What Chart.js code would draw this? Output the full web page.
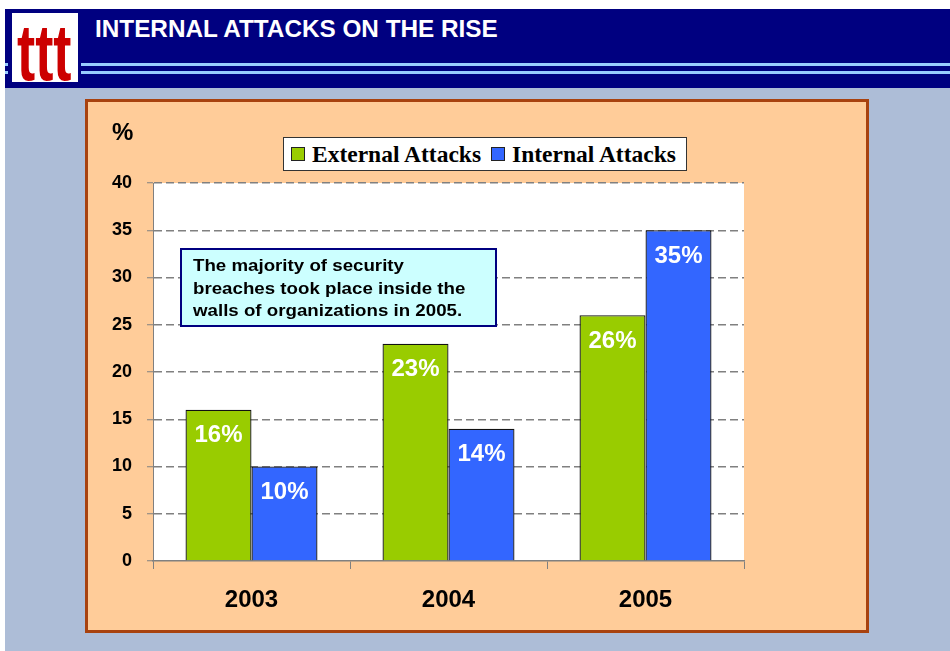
<!DOCTYPE html>
<html>
<head>
<meta charset="utf-8">
<title>Internal attacks on the rise</title>
<script src="https://cdn.jsdelivr.net/npm/chart.js@4.4.1/dist/chart.umd.min.js"></script>
<style>
  html, body { margin: 0; padding: 0; }
  body {
    width: 950px; height: 651px; position: relative; overflow: hidden;
    background: #fff; font-family: Arial, "Liberation Sans", sans-serif;
  }
  #slide { position: absolute; left: 5px; top: 9px; right: 0; bottom: 0; background: #adbdd7; }
  #header { position: absolute; left: 5px; top: 9px; width: 945px; height: 79px; background: #000080; }
  .rule { position: absolute; left: 5px; width: 945px; height: 3px; background: #99ccff; }
  #logoFrame { position: absolute; left: 8px; top: 9px; width: 73px; height: 79px; background: #000080; }
  #logo { position: absolute; left: 12px; top: 13px; width: 66px; height: 69px; background: #fff; overflow: hidden; }
  #logo span {
    position: absolute; left: 5px; top: -6px; line-height: 62px;
    font: bold 62px "Liberation Sans", Arial, sans-serif;
    color: #cc0000; letter-spacing: 0px;
    transform: scale(0.88, 1.28); transform-origin: 0 0;
  }
  #title {
    position: absolute; left: 95px; top: 17px; line-height: 24px;
    font-size: 24.3px; font-weight: bold; color: #fff; white-space: nowrap;
  }
  #panel {
    position: absolute; left: 85px; top: 99px; width: 784px; height: 534px;
    box-sizing: border-box; background: #ffcc99; border: 3px solid #a8420f;
  }
  #chartBox { position: absolute; left: 85px; top: 99px; width: 784px; height: 534px; }
  #yUnit {
    position: absolute; left: 112px; top: 120px; line-height: 24px;
    font-size: 24px; font-weight: bold; color: #000;
  }
  #legend {
    position: absolute; left: 283px; top: 137px; width: 404px; height: 34px;
    box-sizing: border-box; background: #fff; border: 1.5px solid #333;
    display: flex; align-items: center; padding-left: 7px;
    font: bold 23.5px "Liberation Serif", "Times New Roman", serif; color: #000;
    white-space: nowrap;
  }
  #legend .sw { width: 12px; height: 12px; border: 1px solid #222; margin-right: 7px; flex: none; }
  #legend .item { display: flex; align-items: center; margin-right: 10px; }
  #note {
    position: absolute; left: 180px; top: 248px; width: 317px; height: 79px;
    box-sizing: border-box; background: #ccffff; border: 2px solid #000080;
  }
  #note div {
    position: absolute; left: 11px; top: 5px; width: 300px;
    font-size: 17px; font-weight: bold; line-height: 22.5px; color: #000;
    transform: scaleX(1.1); transform-origin: 0 0; white-space: nowrap;
  }
</style>
</head>
<body>
<div id="slide"></div>
<div id="header"></div>
<div class="rule" style="top:63px"></div>
<div class="rule" style="top:71px"></div>
<div id="logoFrame"></div>
<div id="logo"><span>ttt</span></div>
<div id="title">INTERNAL ATTACKS ON THE RISE</div>

<div id="panel"></div>
<div id="chartBox"><canvas id="attacks"></canvas></div>
<div id="yUnit">%</div>
<div id="legend"></div>
<div id="note"><div>The majority of security<br>breaches took place inside the<br>walls of organizations in 2005.</div></div>

<script>
  const years = ["2003", "2004", "2005"];
  const externalAttacks = [16, 23, 26];
  const internalAttacks = [10, 14, 35];
  const seriesNames = ["External Attacks", "Internal Attacks"];
  const seriesColors = ["#99cc00", "#3366ff"];
  const yMin = 0, yMax = 40, yStep = 5;

  const FONT = 'Arial, "Liberation Sans", sans-serif';
  Chart.defaults.font.family = FONT;

  // white plot background behind the bars and grid
  const plotBg = {
    id: "plotBg",
    beforeDraw(chart) {
      const a = chart.chartArea, ctx = chart.ctx;
      ctx.save();
      ctx.fillStyle = "#fff";
      ctx.fillRect(a.left, a.top, a.right - a.left, a.bottom - a.top);
      ctx.restore();
    }
  };

  // "NN%" written in white just under the top of each bar
  const barLabels = {
    id: "barLabels",
    afterDatasetsDraw(chart) {
      const ctx = chart.ctx;
      ctx.save();
      ctx.font = "bold 24px " + FONT;
      ctx.fillStyle = "#fff";
      ctx.textAlign = "center";
      ctx.textBaseline = "middle";
      chart.data.datasets.forEach((ds, i) => {
        chart.getDatasetMeta(i).data.forEach((bar, j) => {
          ctx.fillText(ds.data[j] + "%", bar.x, bar.y + 26);
        });
      });
      ctx.restore();
    }
  };

  const chart = new Chart(document.getElementById("attacks"), {
    type: "bar",
    data: {
      labels: years,
      datasets: [externalAttacks, internalAttacks].map((vals, i) => ({
        label: seriesNames[i],
        data: vals,
        backgroundColor: seriesColors[i],
        borderColor: "#111",
        borderWidth: 1.3,
        borderSkipped: "bottom",
        categoryPercentage: 0.67,
        barPercentage: 1.0
      }))
    },
    options: {
      responsive: true,
      maintainAspectRatio: false,
      animation: false,
      layout: { padding: { top: 84, right: 125, bottom: 0, left: 0 } },
      plugins: { legend: { display: false }, tooltip: { enabled: false } },
      scales: {
        x: {
          grid: {
            display: true, drawOnChartArea: false, drawTicks: true, offset: true,
            tickLength: 8, color: "#808080", tickColor: "#808080"
          },
          border: { display: true, color: "#808080", width: 1.5 },
          ticks: { color: "#000", font: { size: 24, weight: "bold" }, padding: 17 },
          afterFit(s) { s.height = 72; }
        },
        y: {
          min: yMin, max: yMax,
          ticks: { stepSize: yStep, color: "#000", font: { size: 18, weight: "bold" }, padding: 15 },
          grid: {
            // the zero line is the solid x axis, so no dashed line there
            color: c => (c.tick && c.tick.value === 0 ? "rgba(0,0,0,0)" : "#808080"),
            lineWidth: 1.5, tickLength: 6, tickColor: "#808080", tickWidth: 1
          },
          border: { display: true, color: "#808080", width: 1, dash: [8, 4] },
          afterFit(s) { s.width = 68; }
        }
      }
    },
    plugins: [plotBg, barLabels]
  });

  // boxed legend above the plot, built from the datasets
  const legend = document.getElementById("legend");
  chart.data.datasets.forEach(ds => {
    const item = document.createElement("span");
    item.className = "item";
    const sw = document.createElement("span");
    sw.className = "sw";
    sw.style.background = ds.backgroundColor;
    item.appendChild(sw);
    item.appendChild(document.createTextNode(ds.label));
    legend.appendChild(item);
  });
</script>
</body>
</html>
